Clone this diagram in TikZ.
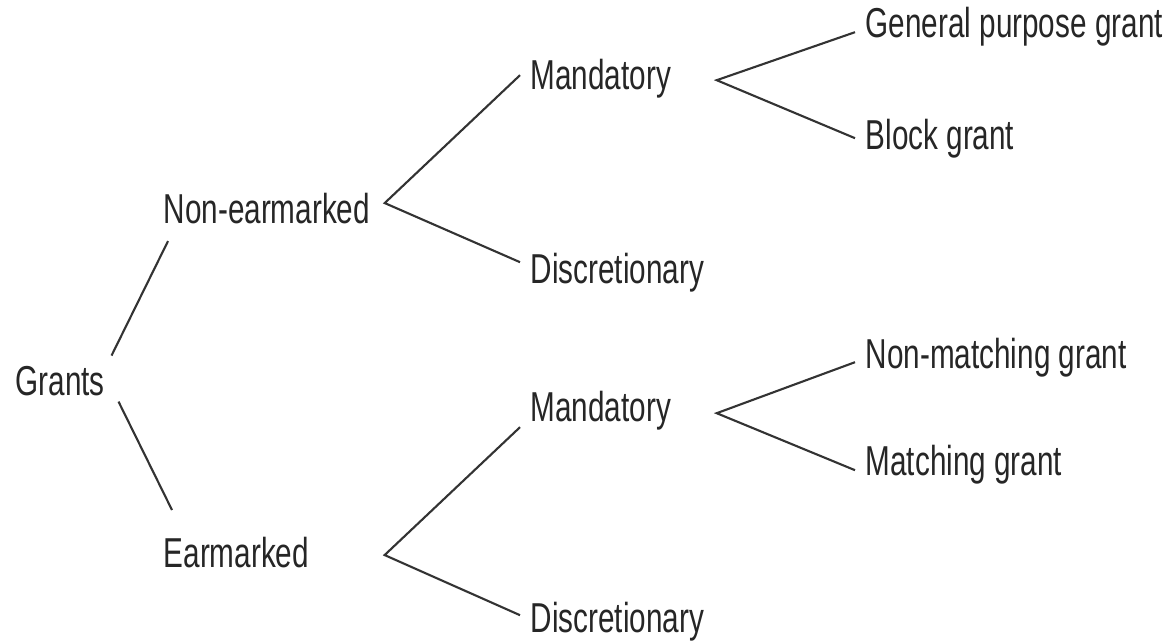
\documentclass[tikz,border=0pt]{standalone}
\usepackage{fontspec}
\setmainfont[FakeStretch=0.71]{Liberation Sans}
\usepackage{tikz}
\usetikzlibrary{positioning,calc}

\begin{document}
\begin{tikzpicture}[
  lbl/.style={anchor=base west, inner sep=0pt, text=black!85,
              font=\fontsize{11.9}{14}\selectfont},
  link/.style={line width=0.6pt, black!80},
]
\useasboundingbox (0,0) rectangle (11.67,6.4);

% Root
\node[lbl] (gr) at (0.15, 2.45) {Grants};

% First level
\node[lbl] (ne) at (1.63, 4.17) {Non-earmarked};
\node[lbl] (em) at (1.63, 0.73) {Earmarked};

% Second level
\node[lbl] (m1) at (5.30, 5.51) {Mandatory};
\node[lbl] (d1) at (5.30, 3.57) {Discretionary};
\node[lbl] (m2) at (5.30, 2.19) {Mandatory};
\node[lbl] (d2) at (5.30, 0.08) {Discretionary};

% Leaves
\node[lbl] (gp) at (8.65, 6.03) {General purpose grant};
\node[lbl] (bg) at (8.65, 4.91) {Block grant};
\node[lbl] (nm) at (8.65, 2.72) {Non-matching grant};
\node[lbl] (mg) at (8.65, 1.65) {Matching grant};

% Fork points
\coordinate (nefork) at ($(ne.east)+(0.14,0.05)$);
\coordinate (emfork) at ($(em.east)+(0.75,-0.03)$);
\coordinate (m1fork) at ($(m1.east)+(0.45,-0.02)$);
\coordinate (m2fork) at ($(m2.east)+(0.45,-0.03)$);

% Root branches
\draw[link] ($(gr.east)+(0.06,0.25)$) -- ($(ne.south west)+(0.05,-0.17)$);
\draw[link] ($(gr.east)+(0.13,-0.21)$) -- ($(em.north west)+(0.09,0.26)$);

% Non-earmarked / Earmarked branches
\draw[link] ($(m1.west)+(-0.10,0.03)$) -- (nefork) -- ($(d1.west)+(-0.10,0.10)$);
\draw[link] ($(m2.west)+(-0.10,-0.17)$) -- (emfork) -- ($(d2.west)+(-0.10,0.06)$);

% Mandatory branches
\draw[link] ($(gp.west)+(-0.10,-0.06)$) -- (m1fork) -- ($(bg.west)+(-0.10,0)$);
\draw[link] ($(nm.west)+(-0.10,-0.05)$) -- (m2fork) -- ($(mg.west)+(-0.10,-0.06)$);

\end{tikzpicture}
\end{document}
